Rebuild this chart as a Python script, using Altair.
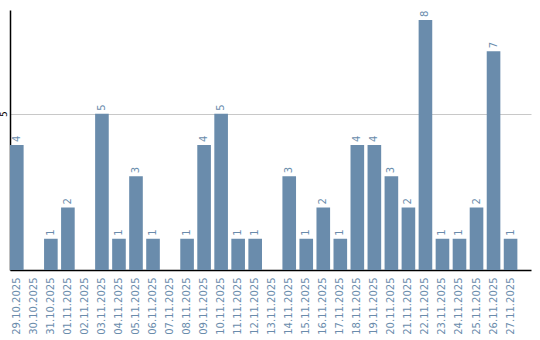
import altair as alt
import pandas as pd

dates = ["29.10.2025", "30.10.2025", "31.10.2025", "01.11.2025", "02.11.2025",
         "03.11.2025", "04.11.2025", "05.11.2025", "06.11.2025", "07.11.2025",
         "08.11.2025", "09.11.2025", "10.11.2025", "11.11.2025", "12.11.2025",
         "13.11.2025", "14.11.2025", "15.11.2025", "16.11.2025", "17.11.2025",
         "18.11.2025", "19.11.2025", "20.11.2025", "21.11.2025", "22.11.2025",
         "23.11.2025", "24.11.2025", "25.11.2025", "26.11.2025", "27.11.2025"]
counts = [4, 0, 1, 2, 0, 5, 1, 3, 1, 0, 1, 4, 5, 1, 1, 0, 3, 1, 2, 1,
          4, 4, 3, 2, 8, 1, 1, 2, 7, 1]

df = pd.DataFrame({"date": dates, "count": counts})
df["label"] = df["count"].apply(lambda v: str(v) if v > 0 else "")

BAR = "#6a8cac"
FONT = "DejaVu Sans"

x = alt.X("date:N", sort=dates, title=None,
          scale=alt.Scale(paddingInner=0.2, paddingOuter=0.4, align=0),
          axis=alt.Axis(labelAngle=270, labelAlign="right", labelBaseline="middle",
                        labelColor=BAR, labelFont=FONT, labelFontSize=10,
                        labelPadding=7, ticks=False, domainColor="#000000",
                        domainWidth=1.5, grid=False))
y = alt.Y("count:Q", title=None,
          scale=alt.Scale(domain=[0, 8.32], nice=False, zero=True),
          axis=alt.Axis(values=[5], labelAngle=270, labelAlign="center",
                        labelBaseline="bottom", labelColor="#000000",
                        labelFont=FONT, labelFontSize=9, labelPadding=2,
                        ticks=False, domainColor="#000000", domainWidth=1.5,
                        grid=True, gridColor="#c8c8c8", gridWidth=1))

base = alt.Chart(df)
bars = base.mark_bar(color=BAR).encode(x=x, y=y)
texts = base.mark_text(angle=270, align="left", baseline="middle", dx=3,
                       color=BAR, font=FONT, fontSize=10).encode(
    x=alt.X("date:N", sort=dates), y="count:Q", text="label:N")

chart = (bars + texts).properties(
    width=521, height=260,
    padding={"left": 10, "top": 10, "right": 9, "bottom": 70},
    autosize=alt.AutoSizeParams(type="none"),
    background="white",
).configure_view(stroke=None)

chart.save("out.html", embed_options={"renderer": "svg", "actions": False})
